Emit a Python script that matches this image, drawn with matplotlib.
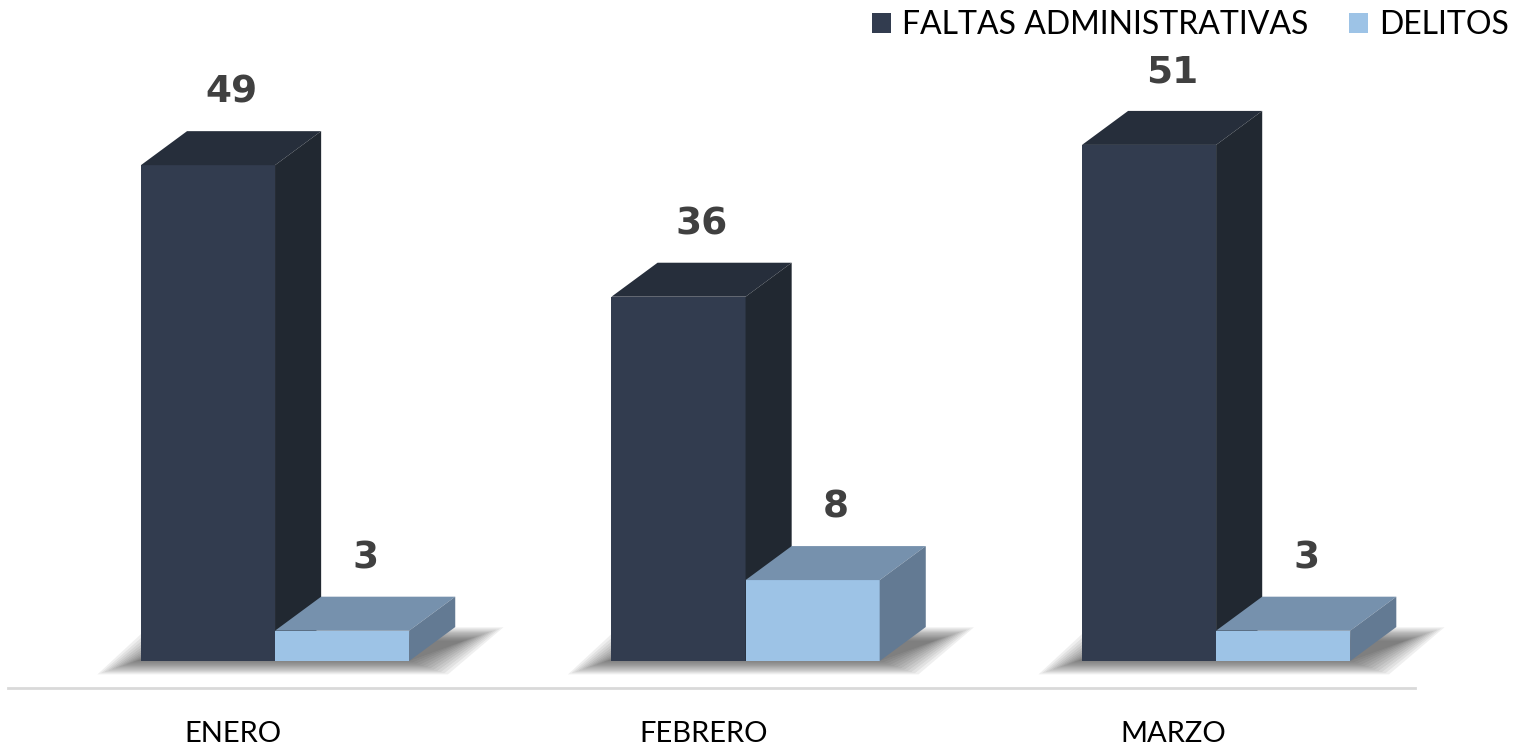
import matplotlib.pyplot as plt
from matplotlib.patches import Polygon
import numpy as np

# chart data
months = ['ENERO', 'FEBRERO', 'MARZO']
faltas = [49, 36, 51]
delitos = [3, 8, 3]
series_names = ['FALTAS ADMINISTRATIVAS', 'DELITOS']

# face colours: front, top, side
dark_faces = ('#323C4F', '#262E3B', '#212831')
light_faces = ('#9DC3E6', '#7691AD', '#637A93')

BW = 0.285      # bar width (category units)
DX = 0.098      # 3d depth, horizontal
DY = 3.36       # 3d depth, vertical (value units)


def draw_box(ax, bar, faces, z):
    """Add top and side faces to a flat bar so it looks like a box"""
    x0 = bar.get_x()
    x1 = x0 + bar.get_width()
    h = bar.get_height()
    top = Polygon([(x0, h), (x1, h), (x1 + DX, h + DY), (x0 + DX, h + DY)],
                  closed=True, facecolor=faces[1], edgecolor='none', zorder=z)
    side = Polygon([(x1, 0), (x1 + DX, DY), (x1 + DX, h + DY), (x1, h)],
                   closed=True, facecolor=faces[2], edgecolor='none', zorder=z)
    ax.add_patch(top)
    ax.add_patch(side)


def draw_shadow(ax, x0, x1):
    """Soft floor shadow under a group of bars"""
    n = 12
    for k in range(n):
        ex = 0.0075 * k
        ey = 0.12 * k
        poly = Polygon([(x0 - ex - 0.01, -ey), (x1 + ex, -ey),
                        (x1 + DX + ex + 0.02, DY * 0.6 + ey), (x0 + DX - ex, DY * 0.6 + ey)],
                       closed=True, facecolor='#2A2A2A', edgecolor='none',
                       alpha=0.07, zorder=1)
        ax.add_patch(poly)


fig = plt.figure(figsize=(15.21, 7.5), dpi=100)
fig.patch.set_facecolor('white')
ax = fig.add_axes([0, 0, 1, 1])
ax.set_xlim(-0.5845, 2.648)
ax.set_ylim(-8.79, 65.32)
ax.axis('off')

x = np.arange(len(months))

# shadows first
for i in x:
    draw_shadow(ax, i - BW, i + BW)

bars_dark = ax.bar(x - BW / 2, faltas, width=BW, color=dark_faces[0],
                   label=series_names[0], zorder=3)
bars_light = ax.bar(x + BW / 2, delitos, width=BW, color=light_faces[0],
                    label=series_names[1], zorder=4)

for b in bars_dark:
    draw_box(ax, b, dark_faces, 3)
for b in bars_light:
    draw_box(ax, b, light_faces, 4)

# value labels
for bars in (bars_dark, bars_light):
    for b in bars:
        h = b.get_height()
        ax.text(b.get_x() + b.get_width() / 2 + DX / 2, h + DY + 3.8, f'{h:g}',
                ha='center', va='center', fontsize=27, fontweight='bold',
                color='#404040', family='DejaVu Sans', zorder=6)

# baseline / category axis
ax.axhline(-2.67, xmin=0.005, xmax=0.93, color='#D9D9D9', linewidth=2, zorder=0)

for i, m in zip(x, months):
    ax.text(i - 0.09, -7.2, m, ha='center', va='center', fontsize=21,
            family='Lato', color='#000000')

leg = ax.legend(loc='upper right', bbox_to_anchor=(1.011, 1.025), ncol=2,
                frameon=False, handlelength=0.6, handleheight=0.6,
                handletextpad=0.35, columnspacing=1.25,
                prop={'family': 'Lato', 'size': 23})

plt.savefig('out.png', dpi=100, facecolor='white')
